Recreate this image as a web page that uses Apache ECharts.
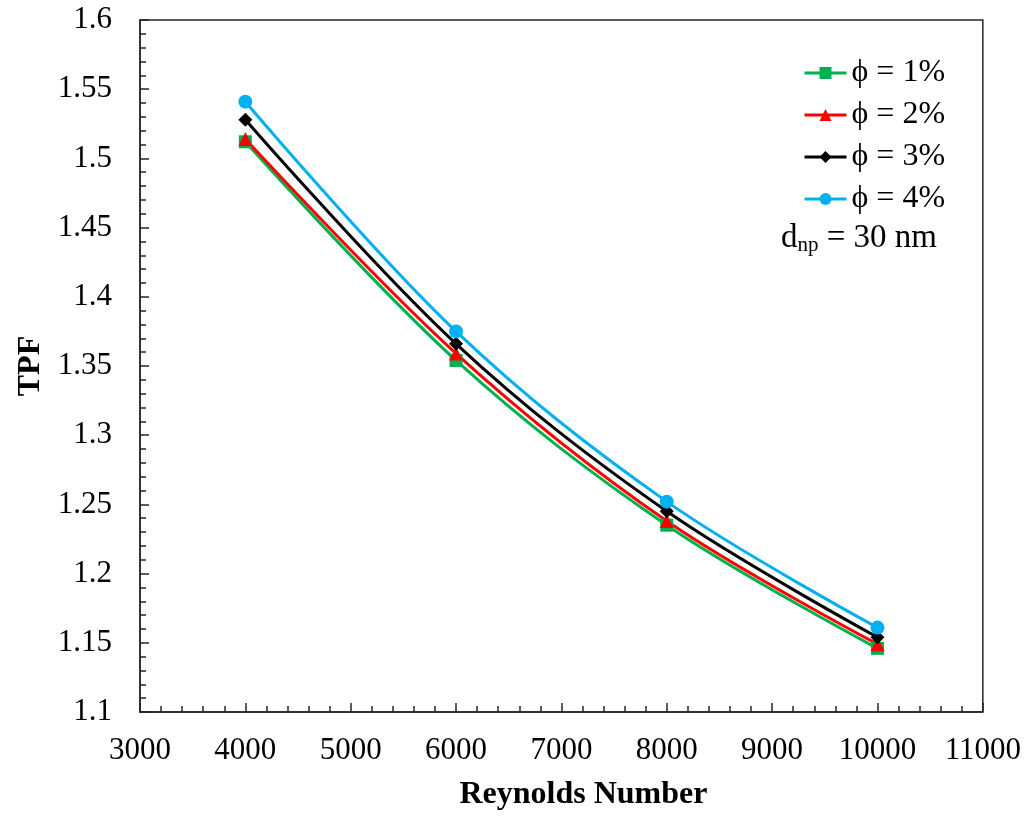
<!DOCTYPE html>
<html>
<head>
<meta charset="utf-8">
<script src="https://cdn.jsdelivr.net/npm/echarts@6/dist/echarts.min.js"></script>
<style>
  html, body { margin: 0; padding: 0; background: #fff; }
  #chart { width: 1024px; height: 821px; }
</style>
</head>
<body>
<div id="chart"></div>
<script>
const reynolds = [4000, 6000, 8000, 10000]
const phi1 = [1.512, 1.354, 1.235, 1.146]
const phi2 = [1.514, 1.359, 1.238, 1.149]
const phi3 = [1.528, 1.366, 1.245, 1.154]
const phi4 = [1.541, 1.375, 1.252, 1.161]
const seriesNames = ['ϕ = 1%', 'ϕ = 2%', 'ϕ = 3%', 'ϕ = 4%']

const font = "'Liberation Serif', 'Times New Roman', serif"
const axisColor = '#262626'

const makeSeries = (name, values, color, symbol, size) => {
  return {
    name: name,
    type: 'line',
    smooth: 0.35,
    symbol: symbol,
    symbolSize: size,
    lineStyle: { color: color, width: 3 },
    itemStyle: { color: color },
    data: reynolds.map((x, i) => [x, values[i]]),
  }
}

const chart = echarts.init(document.getElementById('chart'))
const option = {
  backgroundColor: '#fff',
  animation: false,
  grid: {
    left: 140,
    right: 41,
    top: 20,
    bottom: 109,
    show: true,
    borderColor: axisColor,
    borderWidth: 1.5,
  },
  legend: {
    orient: 'vertical',
    left: 798,
    top: 52,
    itemWidth: 42,
    itemHeight: 15,
    itemGap: 10,
    lineStyle: { width: 3 },
    textStyle: {
      fontFamily: font,
      fontSize: 32,
      lineHeight: 32,
      color: '#000',
    },
    data: seriesNames,
  },
  graphic: [
    {
      type: 'text',
      left: 781,
      top: 222,
      style: {
        text: 'd{sub|np} = 30 nm',
        fontFamily: font,
        fontSize: 33,
        fill: '#000',
        rich: {
          sub: {
            fontFamily: font,
            fontSize: 21,
            padding: [13, 0, 0, 0],
            fill: '#000',
          },
        },
      },
    },
  ],
  xAxis: {
    type: 'value',
    min: 3000,
    max: 11000,
    interval: 1000,
    name: 'Reynolds Number',
    nameLocation: 'middle',
    nameGap: 67,
    nameTextStyle: {
      fontFamily: font,
      fontSize: 32,
      fontWeight: 'bold',
      color: '#000',
      padding: [0, 0, 0, 44],
    },
    axisLine: { lineStyle: { color: axisColor, width: 1.5 } },
    axisTick: { inside: true, length: 9, lineStyle: { color: axisColor, width: 1.5 } },
    minorTick: { show: true, splitNumber: 5, length: 6, lineStyle: { color: axisColor, width: 1.5 } },
    splitLine: { show: false },
    axisLabel: {
      fontFamily: font,
      fontSize: 31,
      color: '#000',
      margin: 23,
      formatter: (v) => String(v),
    },
  },
  yAxis: {
    type: 'value',
    min: 1.1,
    max: 1.6,
    interval: 0.05,
    name: 'TPF',
    nameLocation: 'middle',
    nameGap: 92,
    nameTextStyle: {
      fontFamily: font,
      fontSize: 32,
      fontWeight: 'bold',
      color: '#000',
    },
    axisLine: { lineStyle: { color: axisColor, width: 1.5 } },
    axisTick: { inside: true, length: 9, lineStyle: { color: axisColor, width: 1.5 } },
    minorTick: { show: true, splitNumber: 5, length: 6, lineStyle: { color: axisColor, width: 1.5 } },
    splitLine: { show: false },
    axisLabel: {
      fontFamily: font,
      fontSize: 31,
      color: '#000',
      margin: 28,
      formatter: (v) => String(Math.round(v * 100) / 100),
    },
  },
  series: [
    makeSeries(seriesNames[0], phi1, '#00B050', 'rect', 13),
    makeSeries(seriesNames[1], phi2, '#FF0000', 'triangle', 14),
    makeSeries(seriesNames[2], phi3, '#000000', 'diamond', 14),
    makeSeries(seriesNames[3], phi4, '#00B0F0', 'circle', 14),
  ],
}
chart.setOption(option)
</script>
</body>
</html>
